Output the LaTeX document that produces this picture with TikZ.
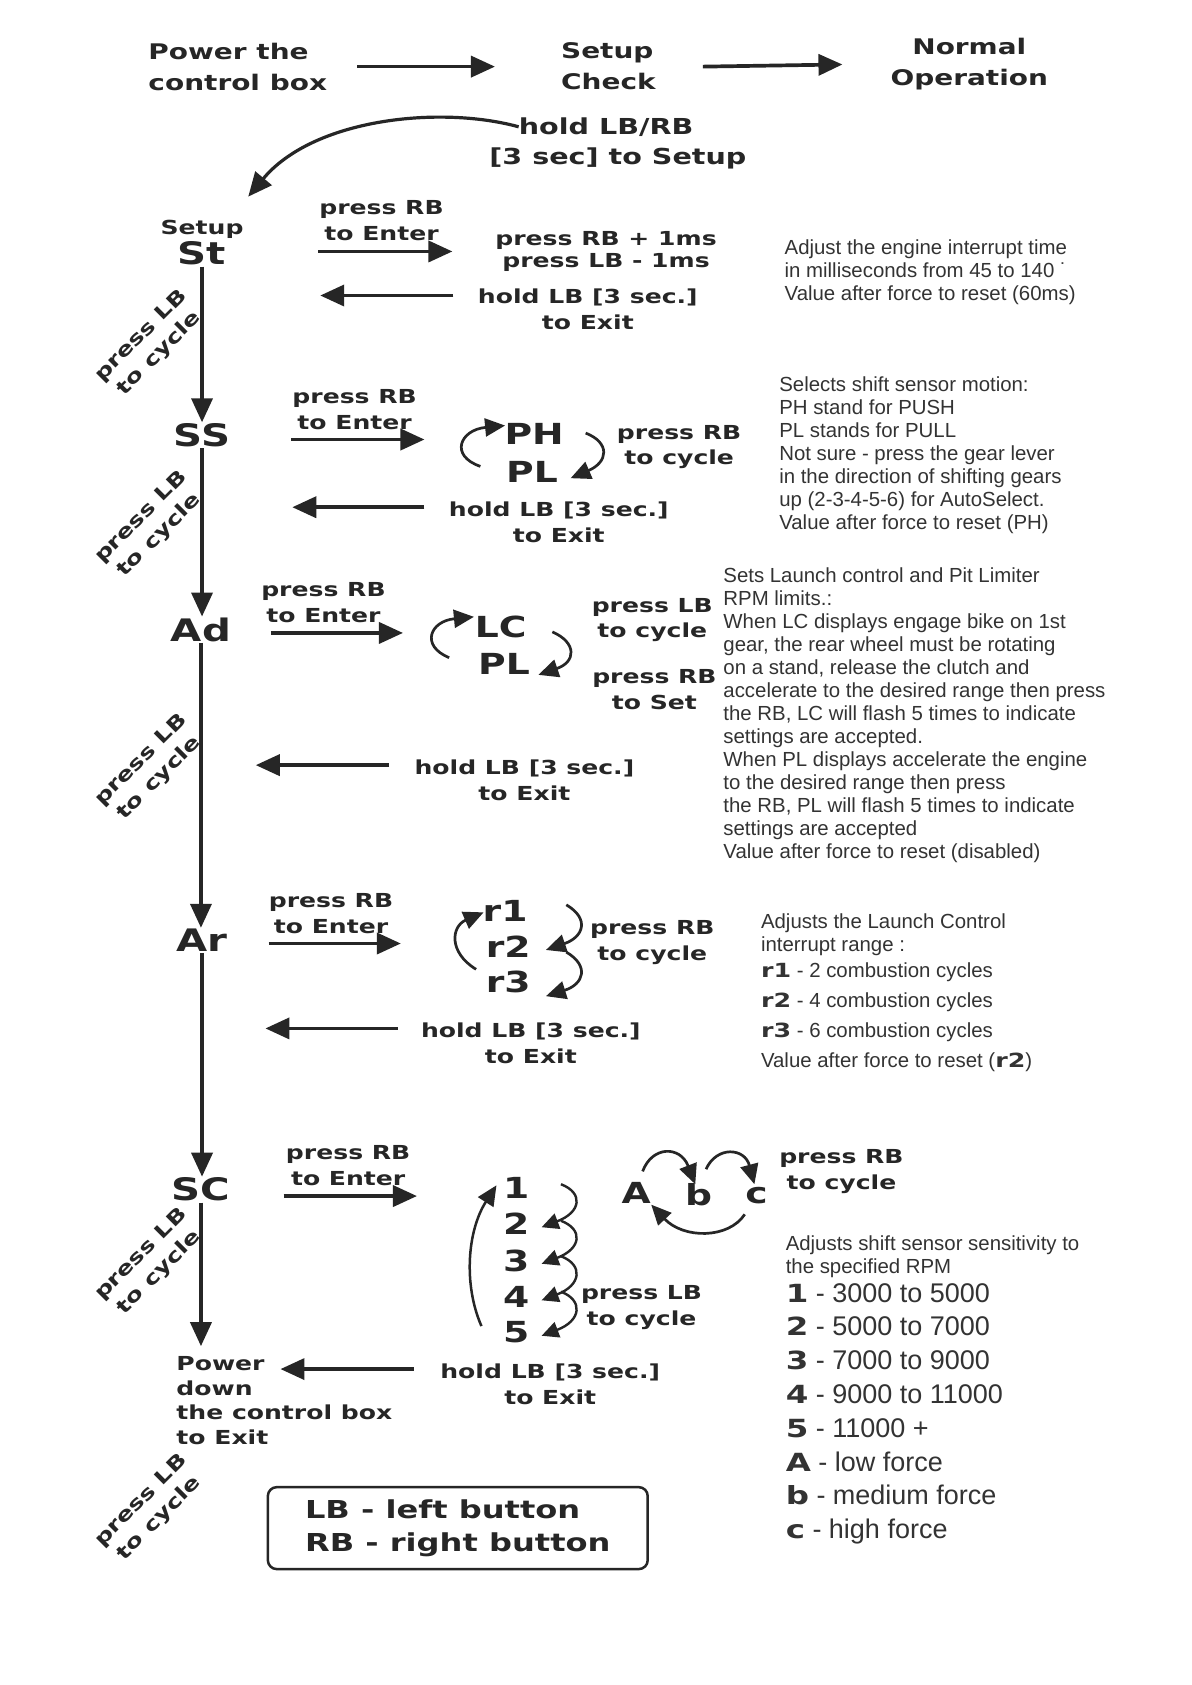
\documentclass[tikz,border=0pt]{standalone}
\usepackage{fontspec}
\setmainfont{Liberation Sans}
\newfontfamily\lblfont{DejaVu Sans}[FakeStretch=1.3]
\usetikzlibrary{arrows.meta}
\definecolor{ink}{HTML}{262626}
\definecolor{txt}{HTML}{333333}
\newcommand\rbf{\lblfont\bfseries\fontsize{19.5}{23}\selectfont}
\newcommand\dgf{\lblfont\bfseries\fontsize{25}{30}\selectfont}
\begin{document}
\begin{tikzpicture}[x=1.0749pt,y=-1.0749pt,
 lbl/.style={font=\lblfont\bfseries\fontsize{19.3}{25.8}\selectfont,text=ink,align=center,inner sep=0pt},
 hdr/.style={font=\lblfont\bfseries\fontsize{21.5}{31}\selectfont,text=ink,inner sep=0pt},
 code/.style={font=\lblfont\bfseries\fontsize{31}{34}\selectfont,text=ink,inner sep=1pt},
 val/.style={font=\lblfont\bfseries\fontsize{29}{32}\selectfont,text=ink,inner sep=0pt},
 desc/.style={font=\fontsize{20.4}{23}\selectfont,text=txt,align=left,anchor=north west,inner sep=0pt},
 main/.style={draw=ink,line width=3.7pt,-{Triangle[length=24pt,width=21pt]}},
 cyc/.style={draw=ink,line width=2.7pt,-{Triangle[length=20pt,width=18pt]}},
 small/.style={draw=ink,line width=2.4pt,-{Triangle[length=17pt,width=16pt]}},
 rot/.style={lbl,rotate=45},
]
\fill[white] (0,0) rectangle (1109,1568);
\useasboundingbox (0,0) rectangle (1109,1568);

% ---------- top row ----------
\node[hdr,align=left,anchor=west] (pow) at (138,62) {Power the\\control box};
\node[hdr,align=left,anchor=west] (chk) at (522,62) {Setup\\Check};
\node[hdr,align=center] (norm) at (902,60) {Normal\\Operation};
\draw[main] ([xshift=30pt]pow.east) -- ([xshift=-66pt]chk.west);
\draw[main] ([xshift=47pt]chk.east) -- ([xshift=-48pt]norm.west);

\node[lbl,font=\lblfont\bfseries\fontsize{22}{31}\selectfont] (hold1) at (564,118) {hold LB/RB};
\node[lbl,font=\lblfont\bfseries\fontsize{22}{31}\selectfont] (hold2) at (575,147) {[3 sec] to Setup};
\coordinate (stin) at (231,183);
\draw[main,line width=3.2pt] (hold1.west) .. controls (410,98) and (292,110) .. (stin);

% ---------- St ----------
\node[lbl] (stsetup) at (188,213) {Setup};
\node[code] (st) at (188,236) {St};
\node[lbl] (st_enter) at (355,205) {press RB\\to Enter};
\coordinate (st_a1) at (296,234); \coordinate (st_a2) at (421,234);
\draw[main] (st_a1) -- (st_a2);
\node[lbl,font=\lblfont\bfseries\fontsize{19.3}{22.6}\selectfont] (st_adj) at (564,234) {press RB + 1ms\\press LB - 1ms};
\coordinate (st_b1) at (422,275); \coordinate (st_b2) at (298,275);
\draw[main] (st_b1) -- (st_b2);
\node[lbl] (st_exit) at (547,288) {hold LB [3 sec.]\\to Exit};
\node[desc] (st_desc) at (730,223) {Adjust the engine interrupt time\\in milliseconds from 45 to 140 ˙\\Value after force to reset (60ms)};
\node[rot] (cyc1) at (140,321) {press LB\\to cycle};

% ---------- SS ----------
\node[code] (ss) at (188,405) {SS};
\draw[main] (st.south) -- (st.south |- ss.north);
\node[lbl] (ss_enter) at (330,381) {press RB\\to Enter};
\coordinate (ss_a1) at (271,409); \coordinate (ss_a2) at (395,409);
\draw[main] (ss_a1) -- (ss_a2);
\node[val] (ph) at (497,404) {PH};
\node[val] (pl) at (495,439) {PL};
\coordinate (ss_c1) at (447,434); \coordinate (ss_c2) at (470,396);
\draw[cyc] (ss_c1) .. controls (418,424) and (428,400) .. (ss_c2);
\coordinate (ss_c3) at (545,403); \coordinate (ss_c4) at (531,445);
\draw[cyc] (ss_c3) .. controls (568,412) and (566,430) .. (ss_c4);
\node[lbl] (ss_cyc) at (632,416) {press RB\\to cycle};
\coordinate (ss_b1) at (395,472); \coordinate (ss_b2) at (272,472);
\draw[main] (ss_b1) -- (ss_b2);
\node[lbl] (ss_exit) at (520,486) {hold LB [3 sec.]\\to Exit};
\node[desc] (ss_desc) at (725,350) {Selects shift sensor motion:\\PH stand for PUSH\\PL stands for PULL\\Not sure - press the gear lever\\in the direction of shifting gears\\up (2-3-4-5-6) for AutoSelect.\\Value after force to reset (PH)};
\node[rot] (cyc2) at (140,490) {press LB\\to cycle};

% ---------- Ad ----------
\node[code] (ad) at (187,586) {Ad};
\draw[main] (ss.south) -- (ss.south |- ad.north);
\node[lbl] (ad_enter) at (301,561) {press RB\\to Enter};
\coordinate (ad_a1) at (252,589); \coordinate (ad_a2) at (375,589);
\draw[main] (ad_a1) -- (ad_a2);
\node[val] (lc) at (466,583) {LC};
\node[val] (pl2) at (469,618) {PL};
\coordinate (ad_c1) at (418,612); \coordinate (ad_c2) at (441,574);
\draw[cyc] (ad_c1) .. controls (391,601) and (400,578) .. (ad_c2);
\coordinate (ad_c3) at (514,588); \coordinate (ad_c4) at (501,628);
\draw[cyc] (ad_c3) .. controls (537,598) and (536,616) .. (ad_c4);
\node[lbl] (ad_cyc) at (607,577) {press LB\\to cycle};
\node[lbl] (ad_set) at (609,642) {press RB\\to Set};
\coordinate (ad_b1) at (362,712); \coordinate (ad_b2) at (238,712);
\draw[main] (ad_b1) -- (ad_b2);
\node[lbl] (ad_exit) at (488,726) {hold LB [3 sec.]\\to Exit};
\node[desc] (ad_desc) at (673,528) {Sets Launch control and Pit Limiter\\RPM limits.:\\When LC displays engage bike on 1st\\gear, the rear wheel must be rotating\\on a stand, release the clutch and\\accelerate to the desired range then press\\the RB, LC will flash 5 times to indicate\\settings are accepted.\\When PL displays accelerate the engine\\to the desired range then press\\the RB, PL will flash 5 times to indicate\\settings are accepted\\Value after force to reset (disabled)};
\node[rot] (cyc3) at (140,716) {press LB\\to cycle};

% ---------- Ar ----------
\node[code] (ar) at (188,875) {Ar};
\draw[main] (ad.south) -- (ad.south |- ar.north);
\node[lbl] (ar_enter) at (308,850) {press RB\\to Enter};
\coordinate (ar_a1) at (250,878); \coordinate (ar_a2) at (373,878);
\draw[main] (ar_a1) -- (ar_a2);
\node[val] (r1) at (470,848) {r1};
\node[val] (r2) at (473,881) {r2};
\node[val] (r3) at (473,914) {r3};
\coordinate (ar_c1) at (443,902); \coordinate (ar_c2) at (450,849);
\draw[cyc] (ar_c1) .. controls (417,886) and (420,862) .. (ar_c2);
\coordinate (ar_c3) at (527,842); \coordinate (ar_c4) at (508,884);
\draw[cyc] (ar_c3) .. controls (549,855) and (543,872) .. (ar_c4);
\coordinate (ar_c5) at (527,886); \coordinate (ar_c6) at (508,927);
\draw[cyc] (ar_c5) .. controls (549,899) and (543,916) .. (ar_c6);
\node[lbl] (ar_cyc) at (607,877) {press RB\\to cycle};
\coordinate (ar_b1) at (370,957); \coordinate (ar_b2) at (247,957);
\draw[main] (ar_b1) -- (ar_b2);
\node[lbl] (ar_exit) at (494,971) {hold LB [3 sec.]\\to Exit};
\node[desc] (ar_desc) at (708,850) {Adjusts the Launch Control\\interrupt range :\\[2.8pt]{\rbf r1} - 2 combustion cycles\\[7pt]{\rbf r2} - 4 combustion cycles\\[7pt]{\rbf r3} - 6 combustion cycles\\[7pt]Value after force to reset ({\rbf r2})};

% ---------- SC ----------
\node[code] (sc) at (187,1107) {SC};
\draw[main] (ar.south) -- (ar.south |- sc.north);
\node[lbl] (sc_enter) at (324,1085) {press RB\\to Enter};
\coordinate (sc_a1) at (264,1113); \coordinate (sc_a2) at (388,1113);
\draw[main] (sc_a1) -- (sc_a2);
\node[val,anchor=west] (n1) at (468,1105) {1};
\node[val,anchor=west] (n2) at (468,1139) {2};
\node[val,anchor=west] (n3) at (468,1173) {3};
\node[val,anchor=west] (n4) at (468,1207) {4};
\node[val,anchor=west] (n5) at (468,1240) {5};
\coordinate (sc_l1) at (448,1234); \coordinate (sc_l2) at (462,1103);
\draw[cyc,line width=2.5pt] (sc_l1) .. controls (431,1195) and (435,1145) .. (sc_l2);
\foreach \ya/\yb [count=\i] in {1102/1142,1136/1176,1169/1210,1202/1243}{
  \coordinate (sc_s\i a) at (522,\ya); \coordinate (sc_s\i b) at (504,\yb);
  \draw[small] (sc_s\i a) .. controls (543,\ya+8) and (541,\yb-14) .. (sc_s\i b);
}
\node[lbl] (sc_cyc) at (597,1217) {press LB\\to cycle};
\node[val] (fa) at (592,1110) {A};
\node[val] (fb) at (650,1112) {b};
\node[val] (fc) at (704,1113) {c};
\coordinate (ab1) at (598,1090); \coordinate (ab2) at (647,1102);
\draw[cyc] (ab1) .. controls (607,1066) and (633,1066) .. (ab2);
\coordinate (bc1) at (657,1088); \coordinate (bc2) at (702,1102);
\draw[cyc] (bc1) .. controls (667,1066) and (693,1068) .. (bc2);
\coordinate (ca1) at (693,1130); \coordinate (ca2) at (606,1121);
\draw[cyc] (ca1) .. controls (678,1153) and (636,1153) .. (ca2);
\node[lbl] (sc_rb) at (783,1090) {press RB\\to cycle};
\node[lbl,align=left,anchor=north west,font=\lblfont\bfseries\fontsize{19.3}{24.7}\selectfont] (pd) at (164,1262) {Power\\down\\the control box\\to Exit};
\draw[main,shorten >=10pt] (sc.south) -- (sc.south |- pd.north);
\coordinate (sc_b1) at (385,1274); \coordinate (sc_b2) at (261,1274);
\draw[main] (sc_b1) -- (sc_b2);
\node[lbl] (sc_exit) at (512,1288) {hold LB [3 sec.]\\to Exit};
\node[desc] (sc_desc) at (731,1150) {Adjusts shift sensor sensitivity to\\the specified RPM};
\node[desc,font=\fontsize{27}{33.8}\selectfont] (sc_list) at (731,1194) {{\dgf 1} - 3000 to 5000\\{\dgf 2} - 5000 to 7000\\{\dgf 3} - 7000 to 9000\\{\dgf 4} - 9000 to 11000\\{\dgf 5} - 11000 +\\{\dgf A} - low force\\{\dgf b} - medium force\\{\dgf c} - high force};
\node[rot] (cyc4) at (140,1176) {press LB\\to cycle};
\node[rot] (cyc5) at (140,1405) {press LB\\to cycle};

% ---------- legend ----------
\node[draw=ink,line width=2.5pt,rounded corners=9pt,minimum width=380pt,minimum height=82pt,
  font=\lblfont\bfseries\fontsize{24.7}{33.3}\selectfont,text=ink,align=left] (legend) at (426,1422) {LB - left button\\RB - right button};
\end{tikzpicture}
\end{document}
